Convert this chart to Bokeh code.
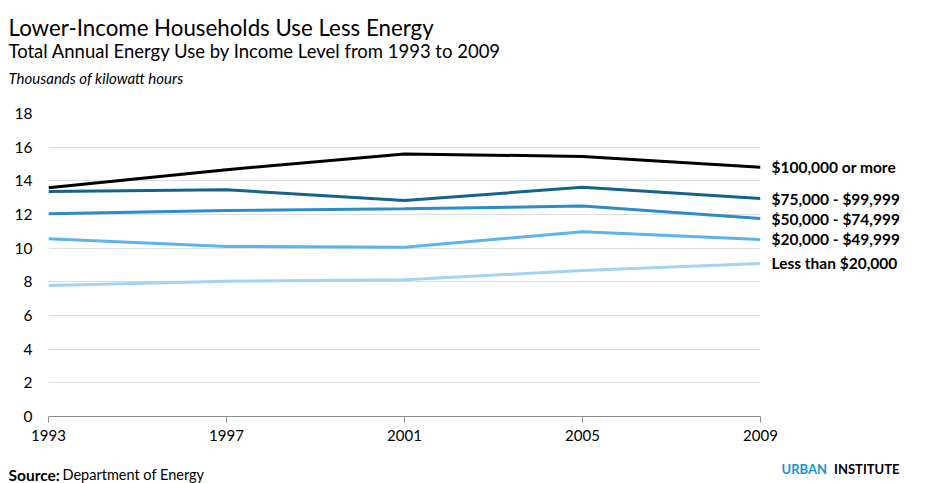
from bokeh.plotting import figure
from bokeh.models import Range1d, Label, FixedTicker, LinearAxis, CustomJSTickFormatter
from bokeh.layouts import column, row
from bokeh.embed import file_html
from bokeh.resources import INLINE

# ---- data ----
years = [1993, 1997, 2001, 2005, 2009]
series_names = ["$100,000 or more", "$75,000 - $99,999", "$50,000 - $74,999",
                "$20,000 - $49,999", "Less than $20,000"]
inc_100k_plus = [13.59, 14.66, 15.6, 15.45, 14.8]
inc_75k_100k = [13.37, 13.47, 12.83, 13.62, 12.95]
inc_50k_75k = [12.04, 12.24, 12.34, 12.5, 11.76]
inc_20k_50k = [10.56, 10.1, 10.06, 10.98, 10.52]
inc_under_20k = [7.78, 8.04, 8.12, 8.67, 9.09]
y_ticks = [0, 2, 4, 6, 8, 10, 12, 14, 16, 18]

title_text = "Lower-Income Households Use Less Energy"
subtitle_text = "Total Annual Energy Use by Income Level from 1993 to 2009"
unit_text = "Thousands of kilowatt hours"

series_values = [inc_100k_plus, inc_75k_100k, inc_50k_75k, inc_20k_50k, inc_under_20k]
colors = ["#000000", "#17628a", "#2b8cc8", "#5db4ea", "#a3d3f2"]

W = 933
HEAD_H, MAIN_H, FOOT_H = 90, 360, 33


def blank_fig(h, y0, y1):
    f = figure(width=W, height=h, output_backend="svg", toolbar_location=None,
               x_range=Range1d(0, W), y_range=Range1d(y1, y0),
               x_axis_type=None, y_axis_type=None, min_border=0)
    f.outline_line_color = None
    f.xgrid.visible = False
    f.ygrid.visible = False
    return f


# ---- header ----
head = blank_fig(HEAD_H, 0, HEAD_H)
head.add_layout(Label(x=8, y=27, text=title_text, text_font="Lato",
                      text_font_size="22.3px", text_color="#000000",
                      text_baseline="alphabetic"))
head.add_layout(Label(x=8, y=50, text=subtitle_text, text_font="Lato",
                      text_font_size="18.5px", text_color="#000000",
                      text_baseline="alphabetic"))
head.add_layout(Label(x=8, y=77, text=unit_text, text_font="Lato",
                      text_font_style="italic", text_font_size="15px",
                      text_color="#000000", text_baseline="alphabetic"))

# ---- main chart ----
p = figure(width=W, height=MAIN_H, output_backend="svg", toolbar_location=None,
           x_range=Range1d(1993, 2009), y_range=Range1d(0, 18),
           min_border_left=48, min_border_right=W - 760,
           min_border_top=113 - HEAD_H, min_border_bottom=HEAD_H + MAIN_H - 416)
p.outline_line_color = None

p.xaxis.ticker = FixedTicker(ticks=years)
p.yaxis.ticker = FixedTicker(ticks=y_ticks)
p.xaxis.axis_line_color = "#8c8c8c"
p.xaxis.major_tick_line_color = "#8c8c8c"
p.xaxis.major_tick_out = 6
p.xaxis.major_tick_in = 0
p.xaxis.minor_tick_line_color = None
p.xaxis.major_label_standoff = 7
p.xaxis.major_label_text_font = "Lato"
p.xaxis.major_label_text_font_size = "15px"
p.xaxis.major_label_text_color = "#000000"

p.yaxis.axis_line_color = None
p.yaxis.major_tick_line_color = None
p.yaxis.minor_tick_line_color = None
p.yaxis.major_tick_out = 0
p.yaxis.major_label_standoff = 16
p.yaxis.major_label_text_font = "Lato"
p.yaxis.major_label_text_font_size = "15.5px"
p.yaxis.major_label_text_color = "#000000"

p.xgrid.grid_line_color = None
p.ygrid.grid_line_color = "#dcdcdc"
p.ygrid.grid_line_width = 1

for name, vals, col in reversed(list(zip(series_names, series_values, colors))):
    p.line(years, vals, line_color=col, line_width=3)

# right-side series labels as an axis at the series' end values
end_vals = [v[-1] for v in series_values]
right = LinearAxis(
    ticker=FixedTicker(ticks=end_vals),
    formatter=CustomJSTickFormatter(
        args=dict(vals=end_vals, names=series_names),
        code="""
        let best = -1, bd = 1e9;
        for (let i = 0; i < vals.length; i++) {
            const d = Math.abs(vals[i] - tick);
            if (d < bd) { bd = d; best = i; }
        }
        return best >= 0 && bd < 1e-6 ? names[best] : '';
        """),
    axis_line_color=None, major_tick_line_color=None, minor_tick_line_color=None,
    major_tick_out=0, major_tick_in=0, major_label_standoff=11,
    major_label_text_font="Lato", major_label_text_font_style="bold",
    major_label_text_font_size="15.5px", major_label_text_color="#000000")
p.add_layout(right, "right")

# ---- footer ----
foot = blank_fig(FOOT_H, HEAD_H + MAIN_H, HEAD_H + MAIN_H + FOOT_H)
foot.add_layout(Label(x=8, y=474, text="Source:", text_font="Lato",
                      text_font_style="bold", text_font_size="15.5px",
                      text_color="#000000", text_baseline="alphabetic"))
foot.add_layout(Label(x=62, y=474, text="Department of Energy", text_font="Lato",
                      text_font_size="14.5px", text_color="#000000",
                      text_baseline="alphabetic"))
foot.add_layout(Label(x=781, y=468, text="URBAN", text_font="Lato",
                      text_font_style="bold", text_font_size="13px",
                      text_color="#1696d2", text_baseline="alphabetic"))
foot.add_layout(Label(x=899, y=468, text="INSTITUTE", text_font="Lato",
                      text_font_style="bold", text_font_size="13px",
                      text_color="#000000", text_baseline="alphabetic",
                      text_align="right"))

layout = column(row(head), row(p), row(foot), spacing=0)
open("out.html", "w").write(file_html(layout, INLINE))
